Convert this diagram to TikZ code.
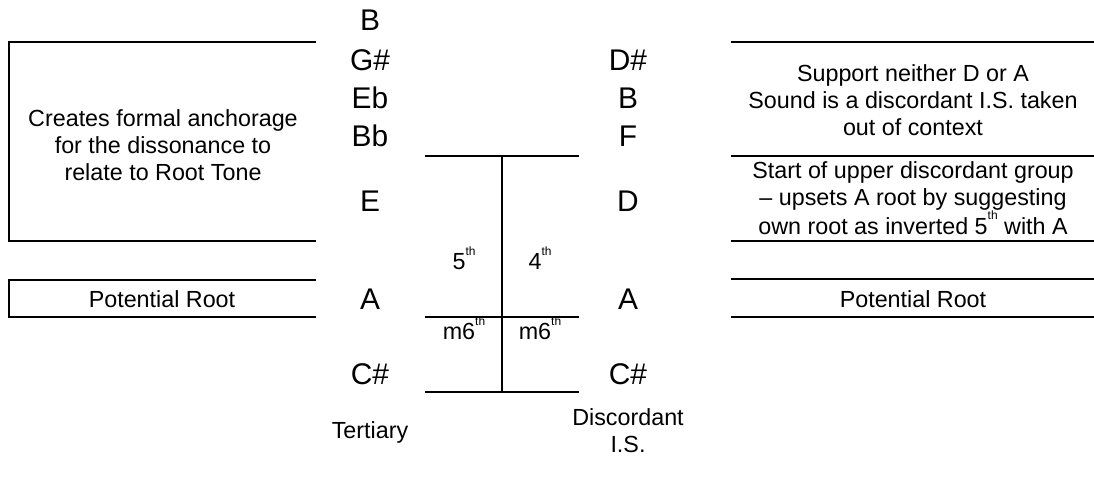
\documentclass[tikz,border=0pt]{standalone}
\usepackage{fontspec}
\setmainfont{Liberation Sans}
\newcommand{\supth}{\raisebox{0.62em}{\fontsize{12}{12}\selectfont th}}
\begin{document}
\begin{tikzpicture}[x=1bp,y=-1bp,
  rule/.style={line width=1.6bp,line cap=rect},
  note/.style={font=\fontsize{30}{34}\selectfont,inner sep=0pt,anchor=base},
  desc/.style={font=\fontsize{23.4}{27}\selectfont,align=center,inner sep=0pt},
  intv/.style={font=\fontsize{23.4}{27}\selectfont,inner sep=0pt,anchor=base}]
\useasboundingbox (0,0) rectangle (1094,480);

% left descriptive panels (open to the right)
\draw[rule] (315,42) -- (9,42) -- (9,241) -- (315,241);
\draw[rule] (315,280) -- (9,280) -- (9,317) -- (315,317);
\node[desc] (anch) at (163,145) {Creates formal anchorage\\for the dissonance to\\relate to Root Tone};
\node[desc] (prl) at (162,299) {Potential Root};

% tertiary column
\node[note] (lB)  at (370,31)  {B};
\node[note] (lGs) at (370,71)  {G\#};
\node[note] (lEb) at (370,109) {Eb};
\node[note] (lBb) at (370,147) {Bb};
\node[note] (lE)  at (370,212) {E};
\node[note] (lA)  at (370,310) {A};
\node[note] (lCs) at (370,385) {C\#};
\node[desc] (tert) at (370,432) {Tertiary};

% interval grid
\draw[rule] (426,156) -- (578,156);
\draw[rule] (426,317) -- (578,317);
\draw[rule] (426,392) -- (578,392);
\draw[rule] (502,156) -- (502,392);
\node[intv] (fifth)  at (464,270) {5\supth};
\node[intv] (fourth) at (540,270) {4\supth};
\node[intv] (msixl)  at (464,340) {m6\supth};
\node[intv] (msixr)  at (540,340) {m6\supth};

% discordant column
\node[note] (rDs) at (628,71)  {D\#};
\node[note] (rB)  at (628,109) {B};
\node[note] (rF)  at (628,147) {F};
\node[note] (rD)  at (628,212) {D};
\node[note] (rA)  at (628,310) {A};
\node[note] (rCs) at (628,385) {C\#};
\node[desc] (disc) at (628,431) {Discordant\\I.S.};

% right descriptive rules
\foreach \yy in {42,156,241,279,317}
  \draw[rule] (732,\yy) -- (1094,\yy);
\node[desc] (neither) at (913,100) {Support neither D or A\\Sound is a discordant I.S. taken\\out of context};
\node[desc] (upper) at (913,198) {Start of upper discordant group\\\textendash{} upsets A root by suggesting\\own root as inverted 5\supth{} with A};
\node[desc] (prr) at (913,299) {Potential Root};
\end{tikzpicture}
\end{document}
